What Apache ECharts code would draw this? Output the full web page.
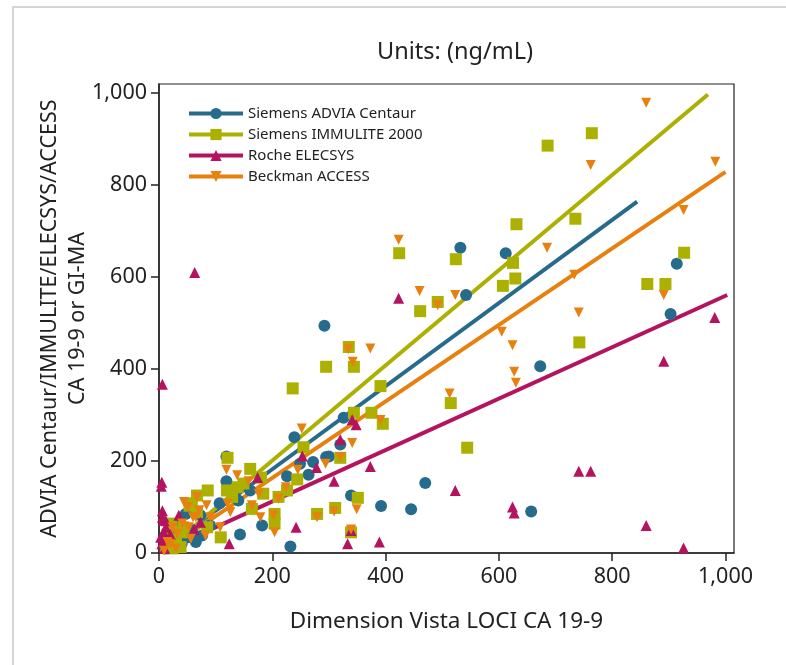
<!DOCTYPE html>
<html>
<head>
<meta charset="utf-8">
<script src="https://cdn.jsdelivr.net/npm/echarts@6/dist/echarts.min.js"></script>
<style>
  html, body { margin: 0; padding: 0; background: #fff; }
</style>
</head>
<body>
<div id="chart" style="width:786px;height:665px"></div>
<script>
// tick values shown on both axes
const tickValues = [0, 200, 400, 600, 800, 1000];

// [Dimension Vista LOCI, comparison method]
const advia = [
  [532, 664], [612, 652], [542, 561], [914, 629], [903, 520], [673, 406], [326, 294], [320, 236],
  [300, 210], [339, 125], [470, 152], [392, 102], [445, 95], [657, 90], [292, 494], [232, 14],
  [239, 252], [119, 210], [119, 156], [161, 136], [140, 114], [107, 108], [226, 167], [264, 170],
  [249, 194], [272, 198], [295, 209], [182, 60], [143, 40], [73, 82], [52, 34], [67, 34],
  [32, 64], [47, 85], [65, 24], [76, 38], [32, 16], [20, 30], [12, 10], [25, 50], [40, 20],
  [90, 60], [58, 50]
];
const immulite = [
  [686, 886], [764, 913], [631, 715], [735, 727], [424, 652], [524, 639], [625, 631], [629, 597],
  [607, 581], [927, 653], [862, 585], [894, 585], [492, 546], [461, 526], [742, 458], [335, 448],
  [344, 405], [295, 405], [236, 358], [391, 363], [344, 305], [375, 305], [395, 281], [515, 326],
  [544, 229], [320, 207], [351, 120], [311, 98], [339, 45], [255, 230], [161, 183], [180, 164],
  [244, 160], [226, 136], [184, 129], [211, 122], [149, 151], [121, 207], [86, 136], [67, 125],
  [139, 143], [120, 136], [129, 122], [109, 34], [85, 56], [54, 103], [67, 89], [43, 56],
  [38, 13], [204, 85], [204, 64], [279, 85], [164, 96], [58, 108], [24, 10], [41, 45],
  [21, 64], [12, 13], [30, 30], [15, 40]
];
const elecsys = [
  [6, 367], [63, 610], [423, 554], [981, 512], [891, 417], [341, 290], [348, 279], [320, 247],
  [373, 188], [309, 156], [523, 136], [741, 178], [762, 178], [624, 100], [627, 87], [860, 60],
  [926, 11], [333, 20], [389, 24], [339, 49], [174, 164], [253, 211], [278, 186], [73, 67],
  [62, 51], [35, 82], [124, 20], [242, 56], [5, 154], [4, 145], [6, 92], [8, 71], [12, 70],
  [6, 78], [12, 56], [3, 34], [5, 20], [8, 45], [15, 30], [10, 10], [20, 40]
];
const access = [
  [860, 979], [982, 851], [762, 844], [926, 746], [423, 681], [685, 664], [460, 570], [523, 561],
  [891, 561], [733, 605], [492, 539], [741, 523], [605, 481], [624, 452], [627, 394], [630, 370],
  [513, 347], [334, 443], [373, 445], [342, 416], [391, 289], [341, 239], [320, 209], [309, 90],
  [349, 95], [339, 51], [252, 271], [245, 181], [294, 194], [158, 156], [176, 129], [224, 143],
  [119, 181], [138, 169], [211, 118], [202, 82], [204, 45], [164, 104], [179, 78], [121, 107],
  [126, 89], [108, 56], [82, 38], [67, 122], [84, 104], [51, 100], [60, 78], [279, 78],
  [91, 78], [24, 56], [32, 42], [15, 24], [41, 64], [53, 56], [65, 78], [56, 31], [9, 5],
  [44, 111], [71, 93], [20, 20], [30, 10]
];

// fitted regression lines, start and end points
const fitAdvia = [[5, 6], [844, 764]];
const fitImmulite = [[8, 2], [969, 997]];
const fitElecsys = [[5, 3], [1003, 561]];
const fitAccess = [[6, 2], [1000, 829]];

const names = ['Siemens ADVIA Centaur', 'Siemens IMMULITE 2000', 'Roche ELECSYS', 'Beckman ACCESS'];
const colors = ['#276b8c', '#acb000', '#b3135f', '#e8800f'];

const font = 'Noto Sans';
const fmt = v => v.toLocaleString('en-US');

const chart = echarts.init(document.getElementById('chart'));

function fitSeries(i, data, symbol, rotate) {
  return {
    name: names[i],
    type: 'line',
    data: data,
    symbol: symbol,
    symbolRotate: rotate || 0,
    showSymbol: false,
    silent: true,
    z: 2,
    lineStyle: { color: colors[i], width: 4 },
    itemStyle: { color: colors[i] }
  };
}

function pointSeries(i, data, symbol, size, rotate) {
  return {
    name: names[i],
    type: 'scatter',
    data: data,
    symbol: symbol,
    symbolSize: size,
    symbolRotate: rotate || 0,
    z: 3,
    itemStyle: { color: colors[i], opacity: 1 }
  };
}

chart.setOption({
  animation: false,
  textStyle: { fontFamily: font },
  title: {
    text: 'Units: (ng/mL)',
    left: 450,
    textAlign: 'center',
    top: 35,
    textStyle: { fontFamily: font, fontSize: 23.5, fontWeight: 'normal', color: '#222' }
  },
  graphic: [{
    type: 'rect',
    shape: { x: 13, y: 7, width: 800, height: 700 },
    style: { fill: 'none', stroke: '#c9c9c9', lineWidth: 1.5 },
    silent: true
  }],
  legend: {
    data: names,
    orient: 'vertical',
    left: 182,
    top: 101,
    itemWidth: 54,
    itemHeight: 14,
    itemGap: 6,
    lineStyle: { width: 4 },
    textStyle: { fontFamily: font, fontSize: 15, color: '#222' }
  },
  grid: {
    left: 159,
    right: 52,
    top: 84,
    bottom: 112,
    show: true,
    borderColor: '#222',
    borderWidth: 1.2,
    containLabel: false
  },
  xAxis: {
    type: 'value',
    min: 0,
    max: 1015,
    name: 'Dimension Vista LOCI CA 19-9',
    nameLocation: 'middle',
    nameGap: 57,
    nameTextStyle: { fontFamily: font, fontSize: 22.5, color: '#222' },
    axisLine: { lineStyle: { color: '#222', width: 1.5 } },
    axisTick: { show: true, inside: false, length: 8, customValues: tickValues, lineStyle: { color: '#222', width: 1.5 } },
    axisLabel: { customValues: tickValues, margin: 13, fontSize: 21.5, color: '#222', formatter: fmt },
    splitLine: { show: false }
  },
  yAxis: {
    type: 'value',
    min: 0,
    max: 1020,
    name: 'ADVIA Centaur/IMMULITE/ELECSYS/ACCESS\nCA 19-9 or GI-MA',
    nameLocation: 'middle',
    nameGap: 67,
    nameMoveOverlap: false,
    nameTextStyle: { fontFamily: font, fontSize: 21.5, lineHeight: 28, color: '#222', align: 'center' },
    axisLine: { lineStyle: { color: '#222', width: 1.5 } },
    axisTick: { show: true, inside: false, length: 8, customValues: tickValues, lineStyle: { color: '#222', width: 1.5 } },
    axisLabel: { customValues: tickValues, margin: 12, fontSize: 21.5, color: '#222', formatter: fmt },
    splitLine: { show: false }
  },
  series: [
    fitSeries(0, fitAdvia, 'circle'),
    fitSeries(1, fitImmulite, 'rect'),
    fitSeries(2, fitElecsys, 'triangle'),
    fitSeries(3, fitAccess, 'triangle', 180),
    pointSeries(0, advia, 'circle', 12),
    pointSeries(1, immulite, 'rect', 12),
    pointSeries(2, elecsys, 'triangle', 11),
    pointSeries(3, access, 'triangle', 10, 180)
  ]
});
</script>
</body>
</html>
